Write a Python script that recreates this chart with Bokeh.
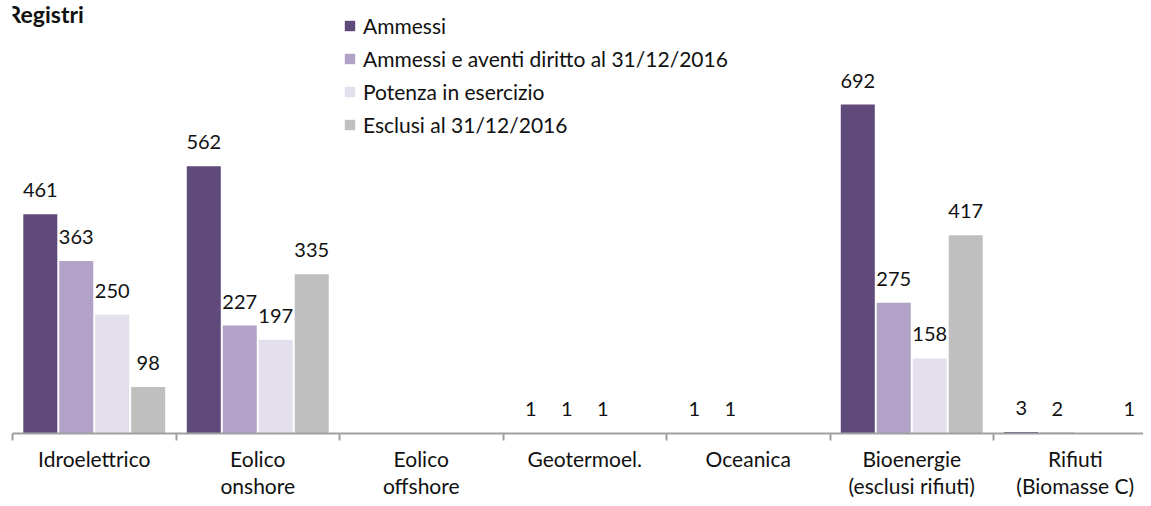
from bokeh.plotting import figure
from bokeh.models import (ColumnDataSource, Range1d, FixedTicker, Legend, LegendItem, Label)
from bokeh.core.properties import value
from bokeh.embed import file_html
from bokeh.resources import INLINE

categories = ["Idroelettrico", "Eolico\nonshore", "Eolico\noffshore", "Geotermoel.",
              "Oceanica", "Bioenergie\n(esclusi rifiuti)", "Rifiuti\n(Biomasse C)"]
series_names = ["Ammessi", "Ammessi e aventi diritto al 31/12/2016",
                "Potenza in esercizio", "Esclusi al 31/12/2016"]
ammessi = [461, 562, None, 1, 1, 692, 3]
aventi_diritto = [363, 227, None, 1, 1, 275, 2]
in_esercizio = [250, 197, None, 1, None, 158, None]
esclusi = [98, 335, None, None, None, 417, 1]
colors = ["#604A7B", "#B3A2C7", "#E4DFEC", "#BFBFBF"]
title_text = "Registri"

FONT = "Lato"
px_per_cat = 163.5
px_per_unit = 0.4754
frame_left = 12
frame_w = 1131
frame_h = 433

p = figure(frame_width=frame_w, frame_height=frame_h, output_backend="svg",
           toolbar_location=None,
           x_range=Range1d(0, frame_w / px_per_cat),
           y_range=Range1d(0, frame_h / px_per_unit),
           y_axis_location=None, min_border_left=frame_left, min_border_right=0,
           min_border_top=0, min_border_bottom=0, outline_line_color=None)
p.grid.visible = False
p.background_fill_color = "white"

offsets = [-0.33, -0.11, 0.11, 0.33]
bar_w = 0.208
renderers = []
all_series = [ammessi, aventi_diritto, in_esercizio, esclusi]
for k, (vals, col) in enumerate(zip(all_series, colors)):
    xs = [i + 0.5 + offsets[k] for i, v in enumerate(vals) if v is not None]
    ys = [v for v in vals if v is not None]
    src = ColumnDataSource(dict(x=xs, top=ys, lab=[str(v) for v in ys]))
    r = p.vbar(x="x", top="top", width=bar_w, bottom=0, source=src,
               fill_color=col, line_color=None)
    renderers.append(r)
    p.text(x="x", y="top", text="lab", source=src, text_align="center",
           text_baseline="middle", y_offset=-24, text_font=value(FONT),
           text_font_size="20px", text_color="#111111")

ax = p.xaxis[0]
ax.ticker = FixedTicker(ticks=[i + 0.5 for i in range(len(categories))],
                        minor_ticks=list(range(len(categories) + 1)))
ax.major_label_overrides = {i + 0.5: c for i, c in enumerate(categories)}
ax.major_tick_in = 0
ax.major_tick_out = 0
ax.minor_tick_in = 0
ax.minor_tick_out = 7
ax.minor_tick_line_color = "#A0A0A0"
ax.minor_tick_line_width = 2
ax.axis_line_color = "#A0A0A0"
ax.axis_line_width = 2
ax.major_label_standoff = 5
ax.major_label_text_font = FONT
ax.major_label_text_font_size = "21px"
ax.major_label_text_color = "#111111"
ax.major_label_text_line_height = 1.1

items = [LegendItem(label=n, renderers=[r]) for n, r in zip(series_names, renderers)]
leg = Legend(items=items, location=(331, 296), glyph_width=13, glyph_height=13,
             label_standoff=7, label_height=26, spacing=7, padding=0, margin=0,
             border_line_color=None, background_fill_alpha=0,
             label_text_font=FONT, label_text_font_size="21px",
             label_text_color="#111111")
p.add_layout(leg, "center")

p.add_layout(Label(x=-(frame_left - 6) / px_per_cat, y=(frame_h - 13) / px_per_unit,
                   text=title_text, text_font=FONT, text_font_style="bold",
                   text_font_size="23px", text_baseline="alphabetic",
                   text_color="#111111"))

open("out.html", "w").write(file_html(p, INLINE))
